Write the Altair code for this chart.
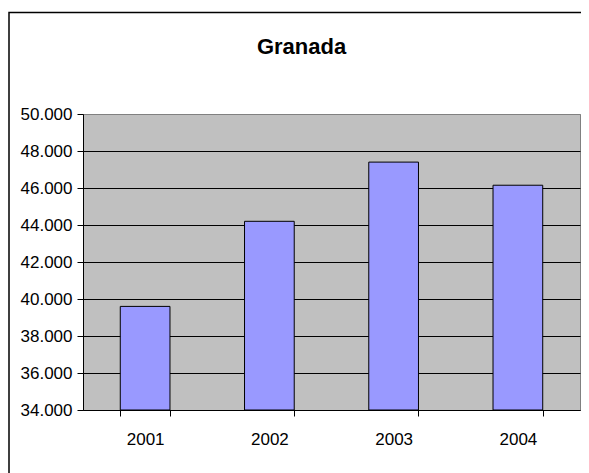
import altair as alt
import pandas as pd

years = ["2001", "2002", "2003", "2004"]
values = [39600, 44200, 47400, 46150]
y_ticks = [34000, 36000, 38000, 40000, 42000, 44000, 46000, 48000, 50000]
y_min, y_max = 34000, 50000

FONT = "Liberation Sans, Arial"

df = pd.DataFrame({"year": years, "value": values})

bars = alt.Chart(df).mark_bar(
    color="#9999FF", stroke="black", strokeWidth=1
).encode(
    x=alt.X(
        "year:N",
        sort=years,
        scale=alt.Scale(paddingInner=0.6, paddingOuter=0.3),
        axis=alt.Axis(
            title=None, labelAngle=0, tickBand="extent", tickSize=6,
            tickColor="black", domainColor="black", labelFont=FONT,
            labelFontSize=17, labelColor="black", labelPadding=15, grid=False,
        ),
    ),
    y=alt.Y(
        "value:Q",
        scale=alt.Scale(domain=[y_min, y_max], zero=False, nice=False),
        axis=alt.Axis(
            title=None, values=y_ticks, tickSize=6, tickColor="black",
            domainColor="black", labelFont=FONT, labelFontSize=17,
            labelColor="black", labelPadding=5, grid=True,
            gridColor=alt.condition(f"datum.value == {y_max}", alt.value("#808080"), alt.value("black")),
            gridWidth=1,
            labelExpr="replace(format(datum.value, ',.0f'), ',', '.')",
        ),
    ),
    y2=alt.datum(y_min),
)

frame = alt.Chart(pd.DataFrame({"k": [0]})).mark_rect(
    fill=None, stroke="black", strokeWidth=1.5
).encode(
    x=alt.value(-74), x2=alt.value(560), y=alt.value(-101.5), y2=alt.value(420)
)

chart = alt.layer(frame, bars).properties(
    width=497,
    height=296,
    autosize=alt.AutoSizeParams(type="none"),
    padding={"left": 75, "top": 106, "right": 1, "bottom": 63},
    title=alt.Title(
        "Granada", font=FONT, fontSize=22, fontWeight="bold", color="black",
        anchor="middle", dx=-30, offset=-64, baseline="alphabetic",
    ),
).configure(background="white").configure_view(
    fill="#C0C0C0", stroke="#808080", strokeWidth=1
)

chart.save("out.html", embed_options={"renderer": "svg", "actions": False})
